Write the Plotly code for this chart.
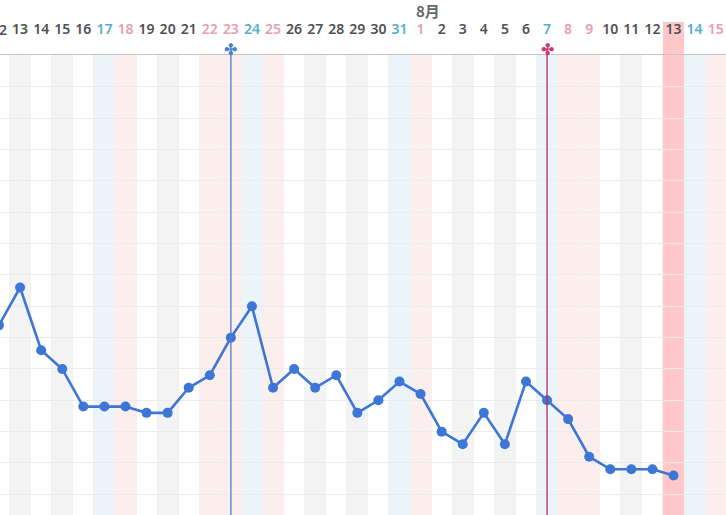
import plotly.graph_objects as go

# ---- data ----
day_labels = ["12", "13", "14", "15", "16", "17", "18", "19", "20", "21", "22", "23", "24", "25",
              "26", "27", "28", "29", "30", "31", "1", "2", "3", "4", "5", "6", "7", "8", "9",
              "10", "11", "12", "13", "14", "15"]
# day kind: n=normal, g=gray stripe, s=saturday, h=sunday/holiday, t=today highlight
day_kinds = ["n", "g", "n", "g", "n", "s", "h", "n", "g", "n", "h", "h", "s", "h",
             "n", "g", "n", "g", "n", "s", "h", "n", "g", "n", "g", "n", "s", "h", "h",
             "n", "g", "n", "t", "s", "h"]
temps = [36.54, 36.66, 36.46, 36.40, 36.28, 36.28, 36.28, 36.26, 36.26, 36.34, 36.38, 36.50,
         36.60, 36.34, 36.40, 36.34, 36.38, 36.26, 36.30, 36.36, 36.32, 36.20, 36.16, 36.26,
         36.16, 36.36, 36.30, 36.24, 36.12, 36.08, 36.08, 36.08, 36.06]
month_label = "8月"
month_start_index = 20
marker_days = [11, 26]
marker_colors = ["#4a7fd0", "#d0386a"]
line_colors = ["#4a7fd0", "#b8285a"]

x_range = [0.047, 34.49]
y_range = [35.934, 37.402]

band_colors = {"g": "#f3f3f3", "s": "#ebf4f9", "h": "#fdeeee", "t": "#ffc8c8"}
label_colors = {"n": "#505050", "g": "#505050", "s": "#55aecb", "h": "#eb9db2", "t": "#505050"}

PLOT_H = 460
idx = list(range(len(day_labels)))
fig = go.Figure()

shapes = []
for i, k in enumerate(day_kinds):
    if k in band_colors:
        shapes.append(dict(type="rect", xref="x", yref="paper", x0=i - 0.5, x1=i + 0.5,
                           y0=0, y1=(1 + 33 / PLOT_H) if k == "t" else 1,
                           fillcolor=band_colors[k], line_width=0, layer="below"))
for d, c in zip(marker_days, line_colors):
    shapes.append(dict(type="line", xref="x", yref="paper", x0=d, x1=d, y0=0, y1=1 + 7 / PLOT_H,
                       line=dict(color=c, width=1.3), layer="above"))

fig.add_trace(go.Scatter(
    x=idx[:len(temps)], y=temps, mode="lines+markers",
    line=dict(color="#3d76d4", width=2.6),
    marker=dict(color="#3d76d4", size=10),
    hoverinfo="skip", showlegend=False))

ticktext = ['<span style="color:%s">%s</span>' % (label_colors[k], t)
            for t, k in zip(day_labels, day_kinds)]

annotations = []
for d, c in zip(marker_days, marker_colors):
    annotations.append(dict(x=d, xref="x", xanchor="center", y=1 + 6 / PLOT_H, yref="paper",
                            yanchor="middle", text="✤", showarrow=False,
                            font=dict(size=16, color=c)))
annotations.append(dict(x=month_start_index + 0.35, xref="x", xanchor="center",
                        y=1 + 45 / PLOT_H, yref="paper", yanchor="middle",
                        text="<b>%s</b>" % month_label, showarrow=False,
                        font=dict(family="Noto Sans CJK JP", size=15, color="#666666")))
# first (partially visible) day label, outside the axis range
annotations.append(dict(x=(0 - x_range[0]) / (x_range[1] - x_range[0]), xref="paper",
                        xanchor="center", y=1 + 25 / PLOT_H, yref="paper", yanchor="middle",
                        text=day_labels[0], showarrow=False,
                        font=dict(family="Noto Sans", size=14, color="#505050", weight=600)))

fig.update_layout(
    width=726, height=515,
    margin=dict(l=0, r=0, t=55, b=0, autoexpand=False),
    paper_bgcolor="white", plot_bgcolor="white",
    shapes=shapes, annotations=annotations,
    xaxis=dict(range=x_range, side="top", tickvals=idx, ticktext=ticktext, automargin=False,
               ticks="outside", ticklen=14, tickcolor="rgba(0,0,0,0)",
               tickfont=dict(family="Noto Sans", size=14, weight=600),
               showgrid=False, zeroline=False, showline=True, linecolor="#c4c4c4", linewidth=1,
               minor=dict(tickvals=[i + 0.5 for i in idx], showgrid=True,
                          gridcolor="#f1f1f1", gridwidth=1, ticks="")),
    yaxis=dict(range=y_range, dtick=0.1, tick0=36.0, showticklabels=False, automargin=False,
               showgrid=True, gridcolor="#ebebeb", gridwidth=1, zeroline=False, showline=False),
)

fig.write_html("out.html", config={"displayModeBar": False},
               post_script="document.body.style.margin='0';document.body.style.overflow='hidden';")
